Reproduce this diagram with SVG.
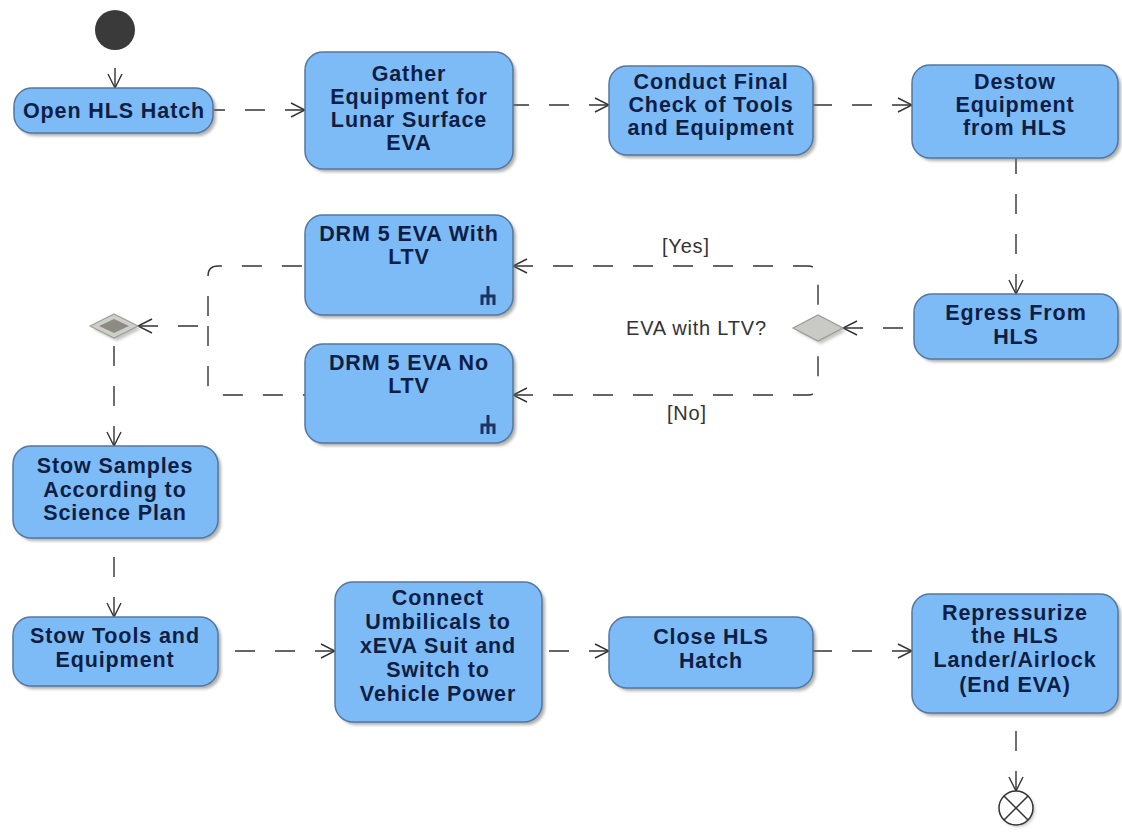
<svg xmlns="http://www.w3.org/2000/svg" width="1122" height="836" viewBox="0 0 1122 836">
  <defs>
    <style>
      .box { fill: #7DBBF6; stroke: #55779f; stroke-width: 1.5; }
      .shadow { fill: #6f6f6f; opacity: 0.55; filter: url(#soft); }
      .label { font-family: "Liberation Sans", Arial, sans-serif; font-weight: bold; font-size: 21.5px; fill: #0f1e44; text-anchor: middle; letter-spacing: 0.9px; }
      .guard { font-family: "Liberation Sans", Arial, sans-serif; font-size: 20px; fill: #333333; letter-spacing: 0.8px; }
      .conn { fill: none; stroke: #333333; stroke-width: 1.4; stroke-dasharray: 20 20; }
      .arrowed { marker-start: url(#open-arrow); }
      .rake { fill: none; stroke: #1f3260; stroke-width: 3; }
    </style>
    <filter id="soft" x="-10%" y="-10%" width="120%" height="120%">
      <feGaussianBlur stdDeviation="1.5"/>
    </filter>
    <!-- open V arrowhead; paths are drawn from target to source so dashes start at the head -->
    <marker id="open-arrow" markerUnits="userSpaceOnUse" markerWidth="16" markerHeight="16" viewBox="0 0 16 16" refX="15" refY="8" orient="auto-start-reverse">
      <path d="M1,1 L15,8 L1,15" fill="none" stroke="#333333" stroke-width="1.4"/>
    </marker>
    <!-- call-behavior (rake) glyph -->
    <path id="rake-glyph" class="rake" d="M0,0 V10 M-7.5,10 H7.5 M-6,10 V19 M0,10 V19 M6,10 V19"/>
  </defs>

  <rect width="1122" height="836" fill="#ffffff"/>

  <!-- control flows -->
  <g id="connectors">
    <path class="conn arrowed" d="M115,88 L115,50"/>
    <path class="conn arrowed" d="M305,110 L214,110"/>
    <path class="conn arrowed" d="M609,105 L513,105"/>
    <path class="conn arrowed" d="M912,105 L813,105"/>
    <path class="conn arrowed" d="M1016,294 L1016,158"/>
    <path class="conn arrowed" d="M843,328 L914,328"/>
    <path class="conn arrowed" d="M513,266 L808,266 Q818,266 818,276 L818,315"/>
    <path class="conn arrowed" d="M513,395 L808,395 Q818,395 818,385 L818,341"/>
    <path class="conn arrowed" d="M138,326 L208,326 L208,276 Q208,266 218,266 L305,266"/>
    <path class="conn" d="M208,326 L208,385 Q208,395 218,395 L305,395"/>
    <path class="conn arrowed" d="M114,446 L114,338"/>
    <path class="conn arrowed" d="M114,617 L114,538"/>
    <path class="conn arrowed" d="M335,651 L218,651"/>
    <path class="conn arrowed" d="M609,651 L542,651"/>
    <path class="conn arrowed" d="M912,651 L813,651"/>
    <path class="conn arrowed" d="M1016,791 L1016,713"/>
    <text class="guard" x="662" y="253">[Yes]</text>
    <text class="guard" x="667" y="420">[No]</text>
  </g>

  <g id="initial">
    <circle cx="115" cy="30" r="20" fill="#3a3a3a"/>
  </g>

  <g id="open-hatch">
    <rect class="shadow" x="17" y="91" width="199" height="45" rx="18"/>
    <rect class="box" x="14" y="88" width="199" height="45" rx="18"/>
    <text class="label" x="114" y="118">Open HLS Hatch</text>
  </g>

  <g id="gather-equipment">
    <rect class="shadow" x="308" y="55" width="208" height="117" rx="18"/>
    <rect class="box" x="305" y="52" width="208" height="117" rx="18"/>
    <text class="label" x="409" y="81">Gather</text>
    <text class="label" x="409" y="104">Equipment for</text>
    <text class="label" x="409" y="127">Lunar Surface</text>
    <text class="label" x="409" y="150">EVA</text>
  </g>

  <g id="final-check">
    <rect class="shadow" x="612" y="69" width="204" height="89" rx="18"/>
    <rect class="box" x="609" y="66" width="204" height="89" rx="18"/>
    <text class="label" x="711" y="89">Conduct Final</text>
    <text class="label" x="711" y="112">Check of Tools</text>
    <text class="label" x="711" y="135">and Equipment</text>
  </g>

  <g id="destow">
    <rect class="shadow" x="915" y="68" width="206" height="93" rx="18"/>
    <rect class="box" x="912" y="65" width="206" height="93" rx="18"/>
    <text class="label" x="1015" y="89">Destow</text>
    <text class="label" x="1015" y="112">Equipment</text>
    <text class="label" x="1015" y="135">from HLS</text>
  </g>

  <g id="egress">
    <rect class="shadow" x="917" y="297" width="204" height="65" rx="18"/>
    <rect class="box" x="914" y="294" width="204" height="65" rx="18"/>
    <text class="label" x="1016" y="320">Egress From</text>
    <text class="label" x="1016" y="344">HLS</text>
  </g>

  <g id="ltv-decision">
    <polygon points="796,331 821,318 846,331 821,344" fill="#8a8a8a" opacity="0.5" filter="url(#soft)"/>
    <polygon points="793,328 818,315 843,328 818,341" fill="#c9c9c6" stroke="#9a9a96" stroke-width="1.2"/>
    <text class="guard" x="626" y="335">EVA with LTV?</text>
  </g>

  <g id="drm5-with-ltv">
    <rect class="shadow" x="308" y="218" width="208" height="100" rx="18"/>
    <rect class="box" x="305" y="215" width="208" height="100" rx="18"/>
    <text class="label" x="409" y="241">DRM 5 EVA With</text>
    <text class="label" x="409" y="264">LTV</text>
    <use href="#rake-glyph" x="488" y="286"/>
  </g>

  <g id="drm5-no-ltv">
    <rect class="shadow" x="308" y="347" width="208" height="99" rx="18"/>
    <rect class="box" x="305" y="344" width="208" height="99" rx="18"/>
    <text class="label" x="409" y="370">DRM 5 EVA No</text>
    <text class="label" x="409" y="393">LTV</text>
    <use href="#rake-glyph" x="488" y="415"/>
  </g>

  <g id="merge">
    <polygon points="93,329 117,317 141,329 117,341" fill="#8a8a8a" opacity="0.5" filter="url(#soft)"/>
    <polygon points="90,326 114,314 138,326 114,338" fill="#cfcfca" stroke="#a0a09a" stroke-width="1.2"/>
    <polygon points="99,326 114,319 129,326 114,333" fill="#8c8c84"/>
  </g>

  <g id="stow-samples">
    <rect class="shadow" x="16" y="449" width="205" height="92" rx="18"/>
    <rect class="box" x="13" y="446" width="205" height="92" rx="18"/>
    <text class="label" x="115" y="473">Stow Samples</text>
    <text class="label" x="115" y="497">According to</text>
    <text class="label" x="115" y="520">Science Plan</text>
  </g>

  <g id="stow-tools">
    <rect class="shadow" x="16" y="620" width="205" height="69" rx="18"/>
    <rect class="box" x="13" y="617" width="205" height="69" rx="18"/>
    <text class="label" x="115" y="643">Stow Tools and</text>
    <text class="label" x="115" y="667">Equipment</text>
  </g>

  <g id="connect-umbilicals">
    <rect class="shadow" x="338" y="585" width="207" height="140" rx="18"/>
    <rect class="box" x="335" y="582" width="207" height="140" rx="18"/>
    <text class="label" x="438" y="605">Connect</text>
    <text class="label" x="438" y="629">Umbilicals to</text>
    <text class="label" x="438" y="653">xEVA Suit and</text>
    <text class="label" x="438" y="677">Switch to</text>
    <text class="label" x="438" y="701">Vehicle Power</text>
  </g>

  <g id="close-hatch">
    <rect class="shadow" x="612" y="620" width="204" height="71" rx="18"/>
    <rect class="box" x="609" y="617" width="204" height="71" rx="18"/>
    <text class="label" x="711" y="644">Close HLS</text>
    <text class="label" x="711" y="668">Hatch</text>
  </g>

  <g id="repressurize">
    <rect class="shadow" x="915" y="597" width="206" height="119" rx="18"/>
    <rect class="box" x="912" y="594" width="206" height="119" rx="18"/>
    <text class="label" x="1015" y="620">Repressurize</text>
    <text class="label" x="1015" y="643">the HLS</text>
    <text class="label" x="1015" y="667">Lander/Airlock</text>
    <text class="label" x="1015" y="692">(End EVA)</text>
  </g>

  <g id="flow-final">
    <circle cx="1018" cy="810" r="17" fill="#8a8a8a" opacity="0.45" filter="url(#soft)"/>
    <circle cx="1016" cy="808" r="17" fill="#ffffff" stroke="#333333" stroke-width="1.5"/>
    <path d="M1004,796 L1028,820 M1028,796 L1004,820" stroke="#333333" stroke-width="1.5"/>
  </g>
</svg>
